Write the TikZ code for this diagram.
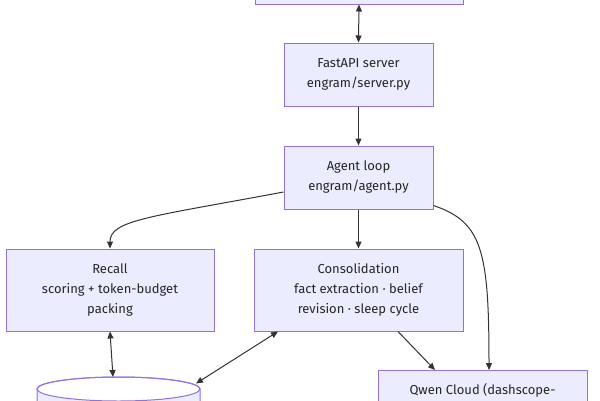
\documentclass[tikz,border=0pt]{standalone}
\usepackage{fontspec}
\setmainfont{Fira Sans}
\usetikzlibrary{arrows.meta}
\definecolor{boxfill}{HTML}{ECECFF}
\definecolor{boxline}{HTML}{9370DB}
\definecolor{edge}{HTML}{333333}
\tikzset{
  box/.style={draw=boxline, fill=boxfill, line width=1pt, rectangle, align=center,
    inner sep=0pt, font=\fontsize{13}{20}\selectfont, text=black!85},
  conn/.style={draw=edge, line width=1pt, -{Triangle[length=7pt,width=6pt]}},
  bconn/.style={draw=edge, line width=1pt, {Triangle[length=7pt,width=6pt]}-{Triangle[length=7pt,width=6pt]}}
}
\begin{document}
\begin{tikzpicture}[x=1pt,y=-1pt]
\useasboundingbox (0,0) rectangle (600,400);
\fill[white] (0,0) rectangle (600,400);
\node[box, minimum width=208, minimum height=62] (top) at (359,-27) {};
\node[box, minimum width=149, minimum height=63] (fast) at (358.5,74.5) {FastAPI server\\engram/server.py};
\node[box, minimum width=149, minimum height=63] (agent) at (358.5,177.5) {Agent loop\\engram/agent.py};
\node[box, minimum width=208, minimum height=82] (recall) at (110,290) {Recall\\scoring + token-budget\\packing};
\node[box, minimum width=209, minimum height=82] (cons) at (358.5,290) {Consolidation\\fact extraction · belief\\revision · sleep cycle};
\node[box, minimum width=209, minimum height=82, anchor=north] (qwen) at (482.5,370) {Qwen Cloud (dashscope-\\\strut\\\strut};
% database cylinder
\fill[boxfill] (37,389) -- (37,420) -- (200,420) -- (200,389) arc[start angle=0, end angle=180, x radius=81.5, y radius=12];
\draw[boxline, line width=1pt] (37,420) -- (37,389) arc[start angle=180, end angle=360, x radius=81.5, y radius=12] -- (200,420);
\draw[boxline, line width=1pt] (118.5,389) ellipse[x radius=81.5, y radius=12];
\coordinate (dbtop) at (113,377);
\coordinate (dbright) at (196,383.5);
% connectors
\draw[bconn] (top.south) -- (fast.north);
\draw[conn] (fast.south) -- (agent.north);
\draw[conn] (agent.south) -- (cons.north);
\draw[conn] ([yshift=-14.5]agent.west) .. controls (150,217) and (110,220) .. (recall.north);
\draw[conn] ([yshift=4]agent.south east) .. controls (482,222) and (489,250) .. ([xshift=6.5]qwen.north);
\draw[conn] ([xshift=39.5]cons.south) -- ([xshift=-47.5]qwen.north);
\draw[bconn] (recall.south) -- (dbtop);
\draw[bconn] ([xshift=-80.5]cons.south) -- (dbright);
\end{tikzpicture}
\end{document}
